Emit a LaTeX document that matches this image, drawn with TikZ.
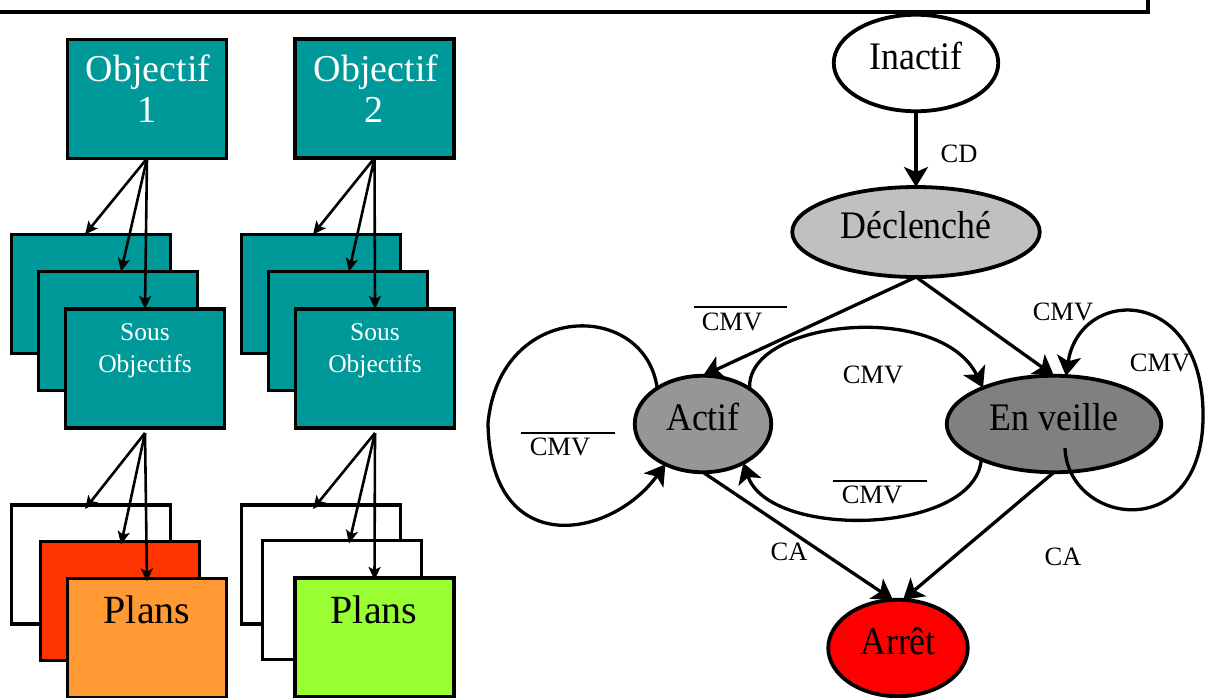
\documentclass[tikz,border=0pt]{standalone}
\usepackage{fontspec}
\setmainfont{Liberation Serif}
\newfontfamily\condserif[FakeStretch=0.92]{Liberation Serif}
\usetikzlibrary{shapes.geometric,arrows.meta,calc}
\definecolor{tealbg}{HTML}{009999}
\definecolor{planred}{HTML}{FF3300}
\definecolor{planorange}{HTML}{FF9933}
\definecolor{plangreen}{HTML}{99FF33}
\definecolor{gdec}{HTML}{C0C0C0}
\definecolor{gact}{HTML}{969696}
\definecolor{genv}{HTML}{808080}
\definecolor{rarr}{HTML}{FF0000}
\begin{document}
\begin{tikzpicture}[x=1pt,y=-1pt,
  box/.style={draw=black, line width=3.3pt, rectangle, minimum width=159pt, minimum height=119pt, inner sep=0pt, outer sep=0pt},
  tealbox/.style={box, fill=tealbg},
  objtxt/.style={text=white, font=\fontsize{38}{41}\selectfont, anchor=base, inner sep=0pt},
  soustxt/.style={text=white, font=\fontsize{25.5}{30}\selectfont, anchor=base, inner sep=0pt},
  plantxt/.style={text=black, font=\fontsize{40}{44}\selectfont, anchor=base, inner sep=0pt},
  larr/.style={draw, line width=2.6pt, -{Stealth[length=13pt,width=12pt,inset=3pt]}},
  state/.style={ellipse, draw=black, line width=3.8pt, inner sep=0pt, outer sep=0pt, text height=26pt, text depth=13pt, font=\condserif\fontsize{39}{42}\selectfont},
  sarr/.style={draw, line width=3.3pt, -{Stealth[length=20pt,width=24pt,inset=5pt]}},
  lbl/.style={inner sep=0pt, font=\fontsize{26.5}{30}\selectfont},
  ovl/.style={line width=2.8pt}
]
\useasboundingbox (0,0) rectangle (1205,697);

% top frame line
\draw[line width=3.3pt] (-5,12) -- (1148,12) -- (1148,-5);

% ---- Objectives ----
\node[tealbox] (o1) at (147,99) {};
\node[tealbox] (o2) at (374.5,98.5) {};
\node[objtxt] (o1t) at (148,81) {Objectif};
\node[objtxt] (o1n) at (147,122) {1};
\node[objtxt] (o2t) at (376,81) {Objectif};
\node[objtxt] (o2n) at (374,122) {2};

% ---- Sous objectifs ----
\node[tealbox] (s1a) at (91,294) {};
\node[tealbox] (s1b) at (118,331) {};
\node[tealbox] (s1c) at (145,368.5) {};
\node[tealbox] (s2a) at (321,294) {};
\node[tealbox] (s2b) at (348,331) {};
\node[tealbox] (s2c) at (375,368.5) {};
\node[soustxt] (s1t1) at (145,340) {Sous};
\node[soustxt] (s1t2) at (145,372) {Objectifs};
\node[soustxt] (s2t1) at (375,340) {Sous};
\node[soustxt] (s2t2) at (375,372) {Objectifs};

% ---- Plans ----
\node[box, fill=white] (p1a) at (91,564.5) {};
\node[box, fill=planred] (p1b) at (120,601) {};
\node[box, fill=planorange] (p1c) at (147,638) {};
\node[box, fill=white] (p2a) at (321,564.5) {};
\node[box, fill=white] (p2b) at (342,600) {};
\node[box, fill=plangreen] (p2c) at (374.5,637.5) {};
\node[plantxt] (p1t) at (147,623) {Plans};
\node[plantxt] (p2t) at (374,623) {Plans};

% ---- left arrows ----
\draw[larr] (o1.south) -- ([xshift=-6pt]s1a.north);
\draw[larr] (o1.south) -- ([xshift=3pt]s1b.north);
\draw[larr] (o1.south) -- (s1c.north);
\draw[larr] (o2.south) -- ([xshift=-8pt]s2a.north);
\draw[larr] (o2.south) -- ([xshift=1pt]s2b.north);
\draw[larr] (o2.south) -- (s2c.north);
\draw[larr] ([yshift=-5pt]s1c.south) -- ([xshift=-6pt,yshift=-4pt]p1a.north);
\draw[larr] ([yshift=-5pt]s1c.south) -- ([xshift=1pt,yshift=-3pt]p1b.north);
\draw[larr] ([yshift=-5pt]s1c.south) -- ([yshift=-3pt]p1c.north);
\draw[larr] ([yshift=-5pt]s2c.south) -- ([xshift=-8pt,yshift=-4pt]p2a.north);
\draw[larr] ([yshift=-5pt]s2c.south) -- ([xshift=7pt,yshift=-3pt]p2b.north);
\draw[larr] ([yshift=-5pt]s2c.south) -- ([yshift=-2pt]p2c.north);

% ---- state diagram ----
\node[state, fill=white, minimum width=164.5pt, minimum height=96.5pt] (ina) at (916,63) {Inactif};
\node[state, fill=gdec, minimum width=247.5pt, minimum height=90pt] (dec) at (916,232) {Déclenché};
\node[state, fill=gact, minimum width=136.5pt, minimum height=96.5pt] (act) at (703,424) {Actif};
\node[state, fill=genv, minimum width=214.5pt, minimum height=96.5pt] (env) at (1054,424) {En veille};
\node[state, fill=rarr, minimum width=139.5pt, minimum height=96.5pt] (arr) at (898,648) {Arrêt};

\coordinate (loopL) at (488,423);
\coordinate (loopR) at (1203,420);

\draw[sarr] (ina.south) -- (dec.north);
\draw[sarr] (dec.south) -- (act.north);
\draw[sarr] (dec.south) -- (env.north);
\draw[sarr] (act.37) .. controls (745,320) and (940,300) .. (env.153);
\draw[sarr] (env.206) .. controls (975,535) and (770,540) .. (act.316);
\draw[sarr] (act.142) .. controls (645,300) and (500,300) .. (loopL) .. controls (490,560) and (610,540) .. (act.227);
\draw[sarr] ($(env.center)+(11,24)$) .. controls (1068,525) and (1200,545) .. (loopR) .. controls (1206,285) and (1080,285) .. (env.76);
\draw[sarr] (act.south) -- (arr.96);
\draw[sarr] (env.south) -- (arr.84);

% labels
\node[lbl] (lcd) at (959,154) {CD};
\node[lbl] (l1) at (732,322) {CMV};
\draw[ovl] (694,307) -- (787,307);
\node[lbl] (l2) at (1063,312) {CMV};
\node[lbl] (l3) at (1160,363) {CMV};
\node[lbl] (l4) at (873,375) {CMV};
\node[lbl] (l5) at (872,495) {CMV};
\draw[ovl] (833,481) -- (927,481);
\node[lbl] (l6) at (560,447) {CMV};
\draw[ovl] (521,433) -- (615,433);
\node[lbl] (l7) at (789,552) {CA};
\node[lbl] (l8) at (1063,557) {CA};
\end{tikzpicture}
\end{document}
